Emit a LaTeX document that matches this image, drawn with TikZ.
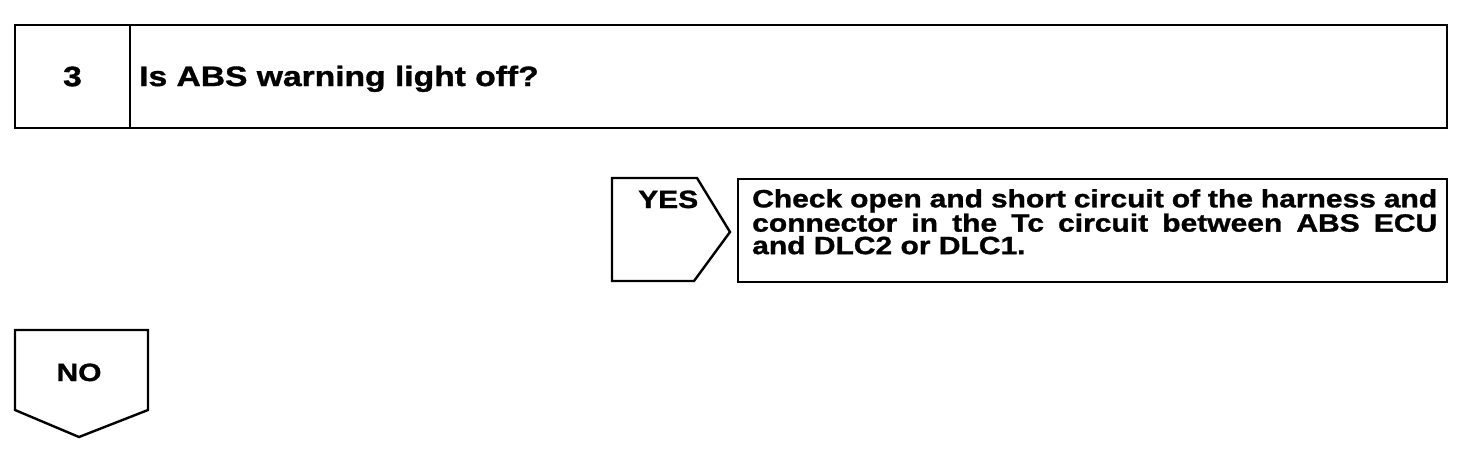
\documentclass[tikz,border=0pt]{standalone}
\usepackage{fontspec}
\usepackage{xcolor}
\usepackage{tikz}
\usetikzlibrary{calc,positioning}
\newfontfamily\manualfont{Liberation Sans}[FakeStretch=1.2, BoldFeatures={FakeBold=1.2}]
\definecolor{inkBlack}{RGB}{0,0,0}

\begin{document}
\begin{tikzpicture}[x=1pt,y=-1pt,
  box/.style={draw=inkBlack, line width=2.4pt, inner sep=0pt, outer sep=0pt},
  bigtxt/.style={font=\manualfont\bfseries\fontsize{28}{30}\selectfont, text=inkBlack, inner sep=0pt},
  smalltxt/.style={font=\manualfont\bfseries\fontsize{25}{22.5}\selectfont, text=inkBlack, inner sep=0pt}]
\useasboundingbox (0,0) rectangle (1472,466);
\node[box, bigtxt, minimum width=115, minimum height=103, anchor=north west] (stepnum) at (15,25) {3};
\node[box, minimum width=1317, minimum height=103, anchor=west] (question) at (stepnum.east) {};
\node[bigtxt, anchor=base west] (questiontext) at (139,86) {Is ABS warning light off?};
\draw[box, line join=miter] (612,178) -- (697,178) -- (730,232) -- (694,281) -- (612,281) -- cycle;
\node[smalltxt, anchor=base west] (yes) at (638,208) {YES};
\node[box, minimum width=709, minimum height=103, anchor=north west] (checkbox) at (738,179) {};
\node[smalltxt, anchor=north west, text width=685, align=justify] (checktext) at (752,189)
{Check open and short circuit of the harness and\linebreak connector in the Tc circuit between ABS ECU\linebreak and DLC2 or DLC1.};
\draw[box] (15,330) -- (148,330) -- (148,410) -- (79,437) -- (15,410) -- cycle;
\node[smalltxt, anchor=base] (no) at (79,381) {NO};
\end{tikzpicture}
\end{document}
